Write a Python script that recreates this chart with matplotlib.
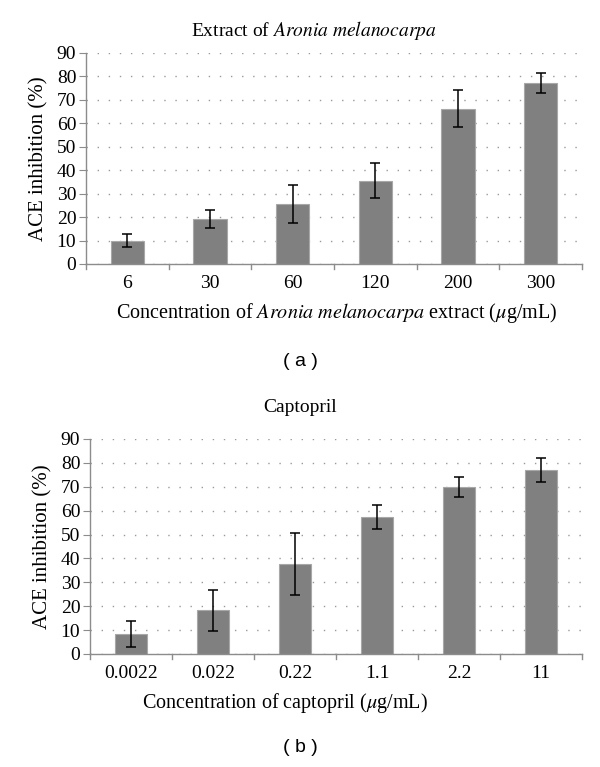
import matplotlib
matplotlib.use("Agg")
import matplotlib.pyplot as plt

# data
conc_a = ["6", "30", "60", "120", "200", "300"]
inhib_a = [10.0, 19.3, 25.7, 35.5, 66.3, 77.2]
err_a = [2.9, 3.8, 8.2, 7.5, 7.8, 4.3]

conc_b = ["0.0022", "0.022", "0.22", "1.1", "2.2", "11"]
inhib_b = [8.3, 18.3, 37.5, 57.3, 70.0, 77.0]
err_b = [5.5, 8.5, 13.0, 5.0, 4.3, 5.0]

yticks = list(range(0, 100, 10))

SERIF = ["Liberation Serif", "DejaVu Serif"]
BAR, EDGE, AXC = "#808080", "#a8a8a8", "#8c8c8c"
plt.rcParams.update({"font.family": SERIF, "mathtext.fontset": "stix"})

W, H = 600, 767
fig = plt.figure(figsize=(W / 100, H / 100), dpi=100)


def px(x0, y0, x1, y1):
    return [x0 / W, 1 - y1 / H, (x1 - x0) / W, (y1 - y0) / H]


def panel(rect, cats, vals, errs):
    ax = fig.add_axes(rect)
    xs = list(range(len(cats)))
    ax.bar(xs, vals, width=0.4, color=BAR, edgecolor=EDGE, linewidth=0.8, zorder=2)
    ax.errorbar(xs, vals, yerr=errs, fmt="none", ecolor="black", elinewidth=1.1,
                capsize=3.5, capthick=1.1, zorder=3)
    ax.set_xlim(-0.5, len(cats) - 0.5)
    ax.set_ylim(0, 90)
    ax.set_yticks(yticks)
    ax.tick_params(axis="y", labelsize=14, length=5, color=AXC, pad=2)
    ax.set_xticks(xs)
    ax.set_xticklabels(cats, fontsize=14)
    ax.tick_params(axis="x", length=0, pad=8)
    # boundary ticks between categories
    for b in [i - 0.5 for i in range(len(cats) + 1)]:
        ax.plot([b, b], [0, -2.2], color=AXC, lw=1, clip_on=False, zorder=1)
    ax.grid(axis="y", color="#9a9a9a", linestyle=(0, (1, 7)), linewidth=1.0, zorder=0)
    for s in ["top", "right"]:
        ax.spines[s].set_visible(False)
    for s in ["left", "bottom"]:
        ax.spines[s].set_color(AXC)
        ax.spines[s].set_linewidth(1.0)
    ax.set_ylabel("ACE inhibition (%)", fontsize=15, labelpad=6)
    return ax


ax1 = panel(px(86, 53, 582, 264), conc_a, inhib_a, err_a)
ax2 = panel(px(90, 439, 582, 654), conc_b, inhib_b, err_b)

fig.text(314 / W, 1 - 30 / H, r"Extract of $\it{Aronia\ melanocarpa}$",
         ha="center", va="center", fontsize=14)
fig.text(337 / W, 1 - 313 / H,
         r"Concentration of $\it{Aronia\ melanocarpa}$ extract ($\it{\mu}$g/mL)",
         ha="center", va="center", fontsize=14.5)
fig.text(300 / W, 1 - 407 / H, "Captopril", ha="center", va="center", fontsize=14)
fig.text(285 / W, 1 - 703 / H, r"Concentration of captopril ($\it{\mu}$g/mL)",
         ha="center", va="center", fontsize=14.5)

fig.text(300 / W, 1 - 362 / H, "( a )", ha="center", va="center", fontsize=14,
         family="Liberation Sans")
fig.text(300 / W, 1 - 748 / H, "( b )", ha="center", va="center", fontsize=14,
         family="Liberation Sans")

fig.savefig("out.png", dpi=100)
